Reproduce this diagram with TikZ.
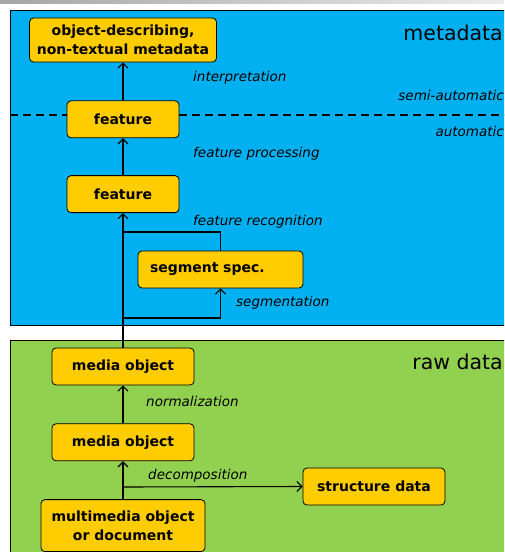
\documentclass[tikz,border=0pt]{standalone}
\usepackage{fontspec}
\setmainfont{DejaVu Sans}
\usepackage{tikz}
\usetikzlibrary{arrows.meta,positioning}
\definecolor{metaBlue}{RGB}{0,176,240}
\definecolor{rawGreen}{RGB}{146,208,80}
\definecolor{boxYellow}{RGB}{255,204,0}

\begin{document}
\begin{tikzpicture}[x=1pt,y=-1pt,
    box/.style={draw,line width=0.8pt,rounded corners=4pt,fill=boxYellow,align=center,font=\bfseries\fontsize{14}{19}\selectfont,minimum height=37pt,inner sep=2pt},
    arrow/.style={-{Straight Barb[length=5pt,width=10pt]},line width=1.1pt},
    link/.style={line width=1.1pt},
    lbl/.style={font=\itshape\fontsize{13.5}{16}\selectfont,anchor=west,inner sep=0pt},
    layer/.style={font=\fontsize{20.5}{24}\selectfont,anchor=east,inner sep=0pt}
  ]
    \useasboundingbox (0,0) rectangle (504,552);
    \clip (0,0) rectangle (504,552);
    \shade[left color=gray!70,right color=gray!15] (0,0) rectangle (504,3);
    \draw[fill=metaBlue] (10,10) rectangle (520,325);
    \draw[fill=rawGreen] (10,340) rectangle (520,570);
    \draw[line width=1.2pt,dash pattern=on 8pt off 5pt] (10,115) -- (504,115);
    \node[layer] (meta) at (503,33) {metadata};
    \node[layer] (raw) at (503,362) {raw data};
    \node[lbl,anchor=east] (semi) at (504,95) {semi-automatic};
    \node[lbl,anchor=east] (auto) at (504,131) {automatic};
    \node[box,minimum width=187pt,minimum height=44pt] (obj) at (123,40) {object-describing,\\non-textual metadata};
    \node[box,minimum width=112pt,below=38pt of obj] (f1) {feature};
    \node[box,minimum width=112pt,below=37pt of f1] (f2) {feature};
    \node[box,text width=141pt,inner xsep=12pt,align=left] (seg) at (220.5,269.5) {segment spec.};
    \node[box,minimum width=142pt] (mo1) at (123,366.5) {media object};
    \node[box,minimum width=142pt,below=38pt of mo1] (mo2) {media object};
    \node[box,minimum width=164pt,minimum height=52pt,below=38pt of mo2] (mm) {multimedia object\\or document};
    \node[box,minimum width=142pt] (sd) at (374,486.5) {structure data};
    \coordinate (rec) at (123,232);
    \coordinate (sgm) at (123,318);
    \coordinate (dec) at (123,487);
    \draw[arrow] (f1) -- (obj);
    \draw[arrow] (f2) -- (f1);
    \draw[arrow] (mo1) -- (f2);
    \draw[link] (seg.north) |- (rec);
    \draw[arrow] (sgm) -| (seg.south);
    \draw[arrow] (mo2) -- (mo1);
    \draw[arrow] (mm) -- (mo2);
    \draw[arrow] (dec) -- (sd.west);
    \node[lbl] (interp) at (193,78) {interpretation};
    \node[lbl] (fproc) at (193,154) {feature processing};
    \node[lbl] (frec) at (193,222) {feature recognition};
    \node[lbl] (segm) at (236,303) {segmentation};
    \node[lbl] (norm) at (146,401) {normalization};
    \node[lbl] (decomp) at (148,476) {decomposition};
  \end{tikzpicture}
\end{document}
